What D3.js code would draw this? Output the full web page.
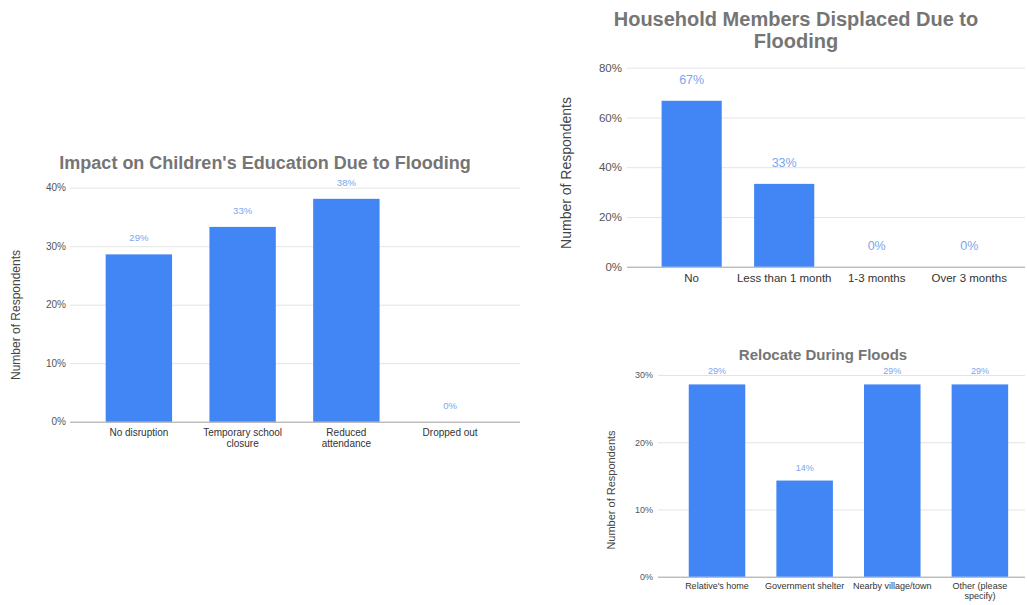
<!DOCTYPE html>
<html>
<head>
<meta charset="utf-8">
<script src="https://cdn.jsdelivr.net/npm/d3@7"></script>
<style>
  html, body { margin: 0; padding: 0; background: #fff; }
  svg { display: block; font-family: "Liberation Sans", Arial, sans-serif; }
</style>
</head>
<body>
<svg id="chart" width="1027" height="605"></svg>
<script>
// Survey results: share of respondents (%) per answer
const educationCategories = ["No disruption", "Temporary school closure", "Reduced attendance", "Dropped out"];
const educationValues = [28.6, 33.3, 38.1, 0];
const educationTicks = [0, 10, 20, 30, 40];

const displacedCategories = ["No", "Less than 1 month", "1-3 months", "Over 3 months"];
const displacedValues = [66.7, 33.3, 0, 0];
const displacedTicks = [0, 20, 40, 60, 80];

const relocateCategories = ["Relative's home", "Government shelter", "Nearby village/town", "Other (please specify)"];
const relocateValues = [28.6, 14.3, 28.6, 28.6];
const relocateTicks = [0, 10, 20, 30];

const BAR = "#4285f4";
const VALUE_TEXT = "#7ba6ee";
const TITLE = "#757575";
const TICK_TEXT = "#555";
const GRID = "#e4e4e4";
const BASE = "#9e9e9e";

const svg = d3.select("#chart");

// Break a label onto several lines when it is wider than maxWidth
function wrapLabel(textSel, maxWidth, lineHeight) {
  textSel.each(function () {
    const text = d3.select(this);
    const words = text.text().split(/\s+/);
    const x = text.attr("x");
    text.text(null);
    let line = [];
    let tspan = text.append("tspan").attr("x", x).attr("dy", 0);
    words.forEach(w => {
      line.push(w);
      tspan.text(line.join(" "));
      if (tspan.node().getComputedTextLength() > maxWidth && line.length > 1) {
        line.pop();
        tspan.text(line.join(" "));
        line = [w];
        tspan = text.append("tspan").attr("x", x).attr("dy", lineHeight).text(w);
      }
    });
  });
}

function barChart(cfg) {
  const g = svg.append("g");

  const x = d3.scaleBand()
    .domain(cfg.categories)
    .range(cfg.bandRange)
    .paddingInner(cfg.padding)
    .paddingOuter(cfg.padding / 2);

  const y = d3.scaleLinear()
    .domain([0, d3.max(cfg.ticks)])
    .range(cfg.yRange);

  // Title, one text element per line
  cfg.title.forEach((t, i) => {
    g.append("text")
      .attr("x", cfg.titleX)
      .attr("y", cfg.titleY + i * cfg.titleLead)
      .attr("text-anchor", "middle")
      .attr("font-weight", "bold")
      .attr("font-size", cfg.titleSize)
      .attr("fill", TITLE)
      .text(t);
  });

  // Value axis with gridlines
  const axis = d3.axisLeft(y)
    .tickValues(cfg.ticks)
    .tickFormat(d => d + "%")
    .tickSize(-(cfg.gridX[1] - cfg.gridX[0]))
    .tickPadding(cfg.tickPad);
  const ag = g.append("g")
    .attr("transform", `translate(${cfg.gridX[0]},0)`)
    .call(axis);
  ag.select(".domain").remove();
  ag.selectAll(".tick line").attr("stroke", d => d === 0 ? BASE : GRID).attr("stroke-width", 1);
  ag.selectAll(".tick text")
    .attr("fill", TICK_TEXT)
    .attr("font-size", cfg.tickSize)
    .attr("font-family", "Liberation Sans, Arial, sans-serif");

  // Axis title
  g.append("text")
    .attr("transform", `translate(${cfg.yTitleX},${cfg.yTitleY}) rotate(-90)`)
    .attr("text-anchor", "middle")
    .attr("dominant-baseline", "middle")
    .attr("font-size", cfg.yTitleSize)
    .attr("fill", "#444")
    .text("Number of Respondents");

  // Bars
  g.selectAll("rect.bar")
    .data(cfg.values)
    .join("rect")
    .attr("class", "bar")
    .attr("x", (d, i) => x(cfg.categories[i]))
    .attr("width", x.bandwidth())
    .attr("y", d => y(d))
    .attr("height", d => y(0) - y(d))
    .attr("fill", BAR);

  // Value labels
  g.selectAll("text.val")
    .data(cfg.values)
    .join("text")
    .attr("class", "val")
    .attr("x", (d, i) => x(cfg.categories[i]) + x.bandwidth() / 2)
    .attr("y", d => y(d) - cfg.valueOffset)
    .attr("text-anchor", "middle")
    .attr("font-size", cfg.valueSize)
    .attr("fill", VALUE_TEXT)
    .text(d => Math.round(d) + "%");

  // Category labels
  g.selectAll("text.cat")
    .data(cfg.categories)
    .join("text")
    .attr("class", "cat")
    .attr("x", d => x(d) + x.bandwidth() / 2)
    .attr("y", cfg.catY)
    .attr("text-anchor", "middle")
    .attr("font-size", cfg.catSize)
    .attr("fill", "#333")
    .text(d => d)
    .call(wrapLabel, cfg.wrapWidth, cfg.catSize + 0.5);
}

barChart({
  title: ["Impact on Children's Education Due to Flooding"],
  titleX: 265, titleY: 169, titleSize: 18, titleLead: 0,
  categories: educationCategories, values: educationValues, ticks: educationTicks,
  bandRange: [87, 502], padding: 0.36,
  yRange: [421.7, 187.7],
  gridX: [70, 520], tickPad: 4, tickSize: 10,
  yTitleX: 17, yTitleY: 315, yTitleSize: 12,
  valueOffset: 13, valueSize: 9.5,
  catY: 436, catSize: 10, wrapWidth: 90
});

barChart({
  title: ["Household Members Displaced Due to", "Flooding"],
  titleX: 796, titleY: 26, titleSize: 20, titleLead: 22,
  categories: displacedCategories, values: displacedValues, ticks: displacedTicks,
  bandRange: [645.4, 1015.5], padding: 0.35,
  yRange: [266.7, 67.7],
  gridX: [627, 1025], tickPad: 5, tickSize: 11.5,
  yTitleX: 567, yTitleY: 173, yTitleSize: 14,
  valueOffset: 17, valueSize: 12.5,
  catY: 282, catSize: 11.5, wrapWidth: 200
});

barChart({
  title: ["Relocate During Floods"],
  titleX: 823, titleY: 360, titleSize: 15, titleLead: 0,
  categories: relocateCategories, values: relocateValues, ticks: relocateTicks,
  bandRange: [673.2, 1023.7], padding: 0.355,
  yRange: [576.7, 375],
  gridX: [658, 1025], tickPad: 5, tickSize: 9,
  yTitleX: 612, yTitleY: 490, yTitleSize: 11,
  valueOffset: 10, valueSize: 9,
  catY: 589, catSize: 9, wrapWidth: 85
});
</script>
</body>
</html>
